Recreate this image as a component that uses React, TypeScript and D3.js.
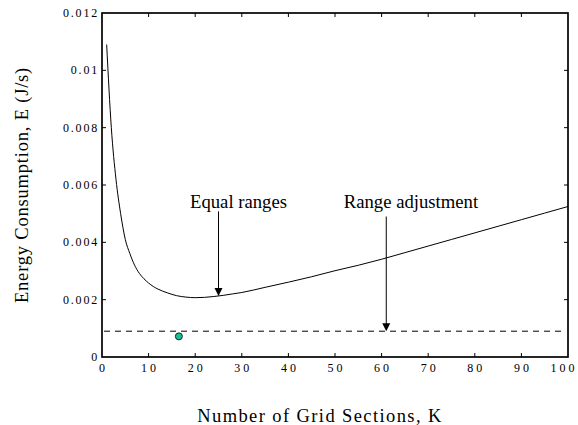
import React, { useEffect, useRef } from "react";
import * as d3 from "d3";

// Energy curve
const gridSections = [1, 2, 3, 4, 5, 6, 7, 8, 9, 10, 11, 12, 14, 16, 18, 20, 22, 24, 26, 28, 30, 35, 40, 45, 50, 55, 60, 65, 70, 75, 80, 85, 90, 95, 100];
const energy = [0.0109, 0.0080, 0.0062, 0.0050, 0.0041, 0.0036, 0.0032, 0.00292, 0.00273, 0.00258, 0.00246, 0.00237, 0.00224, 0.00214, 0.00209, 0.00207, 0.00208, 0.00211, 0.00215, 0.0022, 0.00225, 0.00243, 0.00261, 0.0028, 0.00301, 0.0032, 0.00341, 0.00364, 0.00387, 0.0041, 0.00433, 0.00456, 0.00479, 0.00502, 0.00525];

const xTicks = [0, 10, 20, 30, 40, 50, 60, 70, 80, 90, 100];
const yTicks = [0, 0.002, 0.004, 0.006, 0.008, 0.01, 0.012];
const yTickLabels = ["0", "0.002", "0.004", "0.006", "0.008", "0.01", "0.012"];

const baselineEnergy = 0.0009;
const optimumPoint = { k: 16.5, e: 0.00072 };

const annotations = [
  { label: "Equal ranges", textK: 29.3, textE: 0.0052, arrowK: 25, fromE: 0.00508, toE: 0.00213 },
  { label: "Range adjustment", textK: 66.3, textE: 0.0052, arrowK: 61, fromE: 0.0049, toE: 0.0009 },
];

export default function App() {
  const svgRef = useRef<SVGSVGElement>(null);

  useEffect(() => {
    if (!svgRef.current) return;
    const width = 578;
    const height = 425;
    const margin = { top: 13, right: 10, bottom: 68, left: 102 };

    const svg = d3.select(svgRef.current);
    svg.selectAll("*").remove();

    const x = d3.scaleLinear().domain([0, 100]).range([margin.left, width - margin.right]);
    const y = d3.scaleLinear().domain([0, 0.012]).range([height - margin.bottom, margin.top]);

    const font = "'Liberation Serif', 'Times New Roman', serif";
    const tickLen = 4;

    // frame
    svg
      .append("rect")
      .attr("x", x(0))
      .attr("y", y(0.012))
      .attr("width", x(100) - x(0))
      .attr("height", y(0) - y(0.012))
      .attr("fill", "none")
      .attr("stroke", "#000")
      .attr("stroke-width", 1.7);

    // ticks, all pointing inward
    const ticks = svg.append("g").attr("stroke", "#000").attr("stroke-width", 1);
    xTicks.slice(1, -1).forEach((t) => {
      ticks.append("line").attr("x1", x(t)).attr("x2", x(t)).attr("y1", y(0)).attr("y2", y(0) - tickLen);
      ticks.append("line").attr("x1", x(t)).attr("x2", x(t)).attr("y1", y(0.012)).attr("y2", y(0.012) + tickLen);
    });
    yTicks.slice(1, -1).forEach((t) => {
      ticks.append("line").attr("x1", x(0)).attr("x2", x(0) + tickLen).attr("y1", y(t)).attr("y2", y(t));
      ticks.append("line").attr("x1", x(100)).attr("x2", x(100) - tickLen).attr("y1", y(t)).attr("y2", y(t));
    });

    // tick labels
    svg
      .append("g")
      .selectAll("text")
      .data(xTicks)
      .enter()
      .append("text")
      .attr("x", (d) => Math.min(x(d) + 1.5, width - 14))
      .attr("y", y(0) + 14.5)
      .attr("text-anchor", "middle")
      .attr("font-family", font)
      .attr("font-size", 12)
      .attr("letter-spacing", 3)
      .text((d) => String(d));

    svg
      .append("g")
      .selectAll("text")
      .data(yTicks)
      .enter()
      .append("text")
      .attr("x", x(0) - 3)
      .attr("y", (d) => y(d) + 4)
      .attr("text-anchor", "end")
      .attr("font-family", font)
      .attr("font-size", 12)
      .attr("letter-spacing", 1.8)
      .text((_d, i) => yTickLabels[i]);

    // axis titles
    svg
      .append("text")
      .attr("x", 320)
      .attr("y", 422)
      .attr("text-anchor", "middle")
      .attr("font-family", font)
      .attr("font-size", 18.5)
      .attr("letter-spacing", 1.4)
      .text("Number of Grid Sections, K");

    svg
      .append("text")
      .attr("transform", `translate(28, ${y(0.006)}) rotate(-90)`)
      .attr("text-anchor", "middle")
      .attr("font-family", font)
      .attr("font-size", 18.5)
      .attr("letter-spacing", 0.8)
      .text("Energy Consumption, E (J/s)");

    // dashed baseline
    svg
      .append("line")
      .attr("x1", x(0) + 2)
      .attr("x2", x(100) - 2)
      .attr("y1", y(baselineEnergy))
      .attr("y2", y(baselineEnergy))
      .attr("stroke", "#000")
      .attr("stroke-width", 1)
      .attr("stroke-dasharray", "6,5");

    // energy curve
    const line = d3
      .line<number>()
      .x((_d, i) => x(gridSections[i]))
      .y((d) => y(d))
      .curve(d3.curveMonotoneX);

    svg
      .append("path")
      .datum(energy)
      .attr("d", line)
      .attr("fill", "none")
      .attr("stroke", "#000")
      .attr("stroke-width", 1);

    // annotations with arrows
    annotations.forEach((a) => {
      svg
        .append("text")
        .attr("x", x(a.textK))
        .attr("y", y(a.textE))
        .attr("text-anchor", "middle")
        .attr("font-family", font)
        .attr("font-size", 18.7)
        .text(a.label);

      const ax = x(a.arrowK);
      const tipY = y(a.toE);
      svg
        .append("line")
        .attr("x1", ax)
        .attr("x2", ax)
        .attr("y1", y(a.fromE))
        .attr("y2", tipY - 6)
        .attr("stroke", "#000")
        .attr("stroke-width", 1);
      svg
        .append("path")
        .attr("d", `M${ax - 4},${tipY - 8} L${ax + 4},${tipY - 8} L${ax},${tipY} Z`)
        .attr("fill", "#000");
    });

    // optimum point
    svg
      .append("circle")
      .attr("cx", x(optimumPoint.k))
      .attr("cy", y(optimumPoint.e))
      .attr("r", 3.5)
      .attr("fill", "#17c095")
      .attr("stroke", "#222")
      .attr("stroke-width", 1);
  }, []);

  return (
    <svg
      ref={svgRef}
      width={578}
      height={425}
      style={{ position: "absolute", left: 0, top: 0, background: "#fff" }}
    />
  );
}
